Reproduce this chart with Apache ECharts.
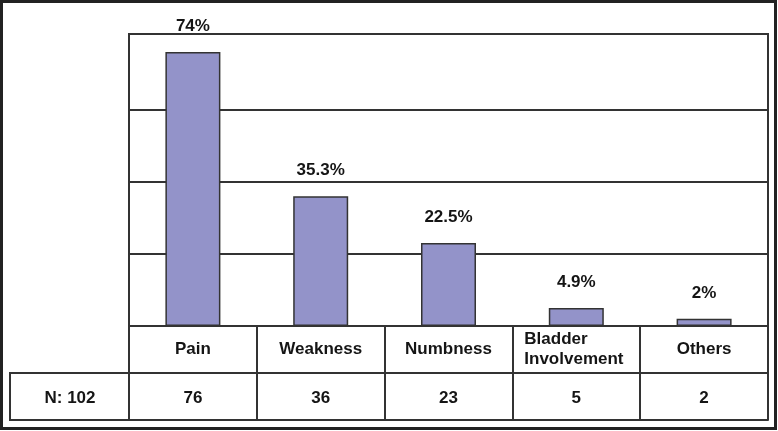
<!DOCTYPE html>
<html>
<head>
<meta charset="utf-8">
<script src="https://cdn.jsdelivr.net/npm/echarts@6/dist/echarts.min.js"></script>
<style>
html,body{margin:0;padding:0;background:#fff;}
#c{width:778px;height:431px;}
</style>
</head>
<body>
<div id="c"></div>
<script>
// ---- data ----
const categories = ['Pain', 'Weakness', 'Numbness', 'Bladder Involvement', 'Others'];
const counts = [76, 36, 23, 5, 2];
const percentLabels = ['74%', '35.3%', '22.5%', '4.9%', '2%'];
const totalN = 102;
const gridValues = [20, 40, 60];
const axisMax = 81;

// ---- styling ----
const FONT = '"Liberation Sans", Arial, sans-serif';
const LINE = '#333333';
const TXT = '#151515';
const BAR = '#9393c9';

const chart = echarts.init(document.getElementById('c'), null, {renderer: 'canvas'});

const gridLeft = 129, gridRight = 10, gridTop = 34, gridBottom = 105;

const option = {
  backgroundColor: '#ffffff',
  animation: false,
  grid: {
    left: gridLeft, right: gridRight, top: gridTop, bottom: gridBottom,
    show: true, borderColor: LINE, borderWidth: 2, backgroundColor: 'transparent'
  },
  xAxis: [
    {
      type: 'category',
      data: categories,
      position: 'bottom',
      axisLine: {show: true, lineStyle: {color: LINE, width: 2}},
      axisTick: {show: true, interval: 0, length: 47, lineStyle: {color: LINE, width: 2}},
      axisLabel: {
        show: true, interval: 0, hideOverlap: false, margin: 23, verticalAlign: 'middle',
        color: TXT, fontSize: 17, fontWeight: 'bold', fontFamily: FONT, lineHeight: 20,
        formatter: function (v) {
          if (v.indexOf(' ') >= 0) {
            return v.split(' ').map(function (w) { return '{l|' + w + '}'; }).join('\n');
          }
          return v;
        },
        rich: {
          l: {width: 104, align: 'left', color: TXT, fontSize: 17, fontWeight: 'bold', fontFamily: FONT, lineHeight: 20}
        }
      }
    },
    {
      type: 'category',
      data: counts.map(String),
      position: 'bottom',
      offset: 47,
      axisLine: {show: true, lineStyle: {color: LINE, width: 2}},
      axisTick: {show: true, interval: 0, length: 47, lineStyle: {color: LINE, width: 2}},
      axisLabel: {
        show: true, interval: 0, margin: 25, verticalAlign: 'middle',
        color: TXT, fontSize: 17, fontWeight: 'bold', fontFamily: FONT
      }
    },
    {
      type: 'category',
      data: categories,
      position: 'bottom',
      offset: 94,
      axisLine: {show: true, lineStyle: {color: LINE, width: 2}},
      axisTick: {show: false},
      axisLabel: {show: false}
    }
  ],
  yAxis: {
    type: 'value',
    min: 0,
    max: axisMax,
    axisLine: {show: false},
    axisTick: {show: false},
    axisLabel: {show: false},
    splitLine: {show: false}
  },
  series: [
    {
      type: 'bar',
      xAxisIndex: 0,
      data: counts,
      barWidth: 55,
      z: 3,
      itemStyle: {color: BAR, borderColor: LINE, borderWidth: 1.5},
      label: {
        show: true, position: 'top', distance: 17,
        color: TXT, fontSize: 17, fontWeight: 'bold', fontFamily: FONT,
        formatter: function (p) { return percentLabels[p.dataIndex]; }
      },
      markLine: {
        silent: true,
        z: 1,
        symbol: ['none', 'none'],
        label: {show: false},
        lineStyle: {color: LINE, width: 2, type: 'solid'},
        data: gridValues.map(function (v) { return {yAxis: v}; })
      }
    }
  ],
  graphic: [
    {
      type: 'rect',
      shape: {x: 10, y: 373, width: gridLeft - 10, height: 47},
      style: {fill: 'transparent', stroke: LINE, lineWidth: 2},
      z: 10
    },
    {
      type: 'text',
      x: 70, y: 398,
      style: {
        text: 'N: ' + totalN,
        fill: TXT, font: 'bold 17px ' + FONT,
        textAlign: 'center', textVerticalAlign: 'middle'
      },
      z: 10
    },
    {
      type: 'rect',
      shape: {x: 1.5, y: 1.5, width: 774, height: 427},
      style: {fill: 'transparent', stroke: '#222222', lineWidth: 3},
      z: 10
    }
  ]
};

chart.setOption(option);
</script>
</body>
</html>
